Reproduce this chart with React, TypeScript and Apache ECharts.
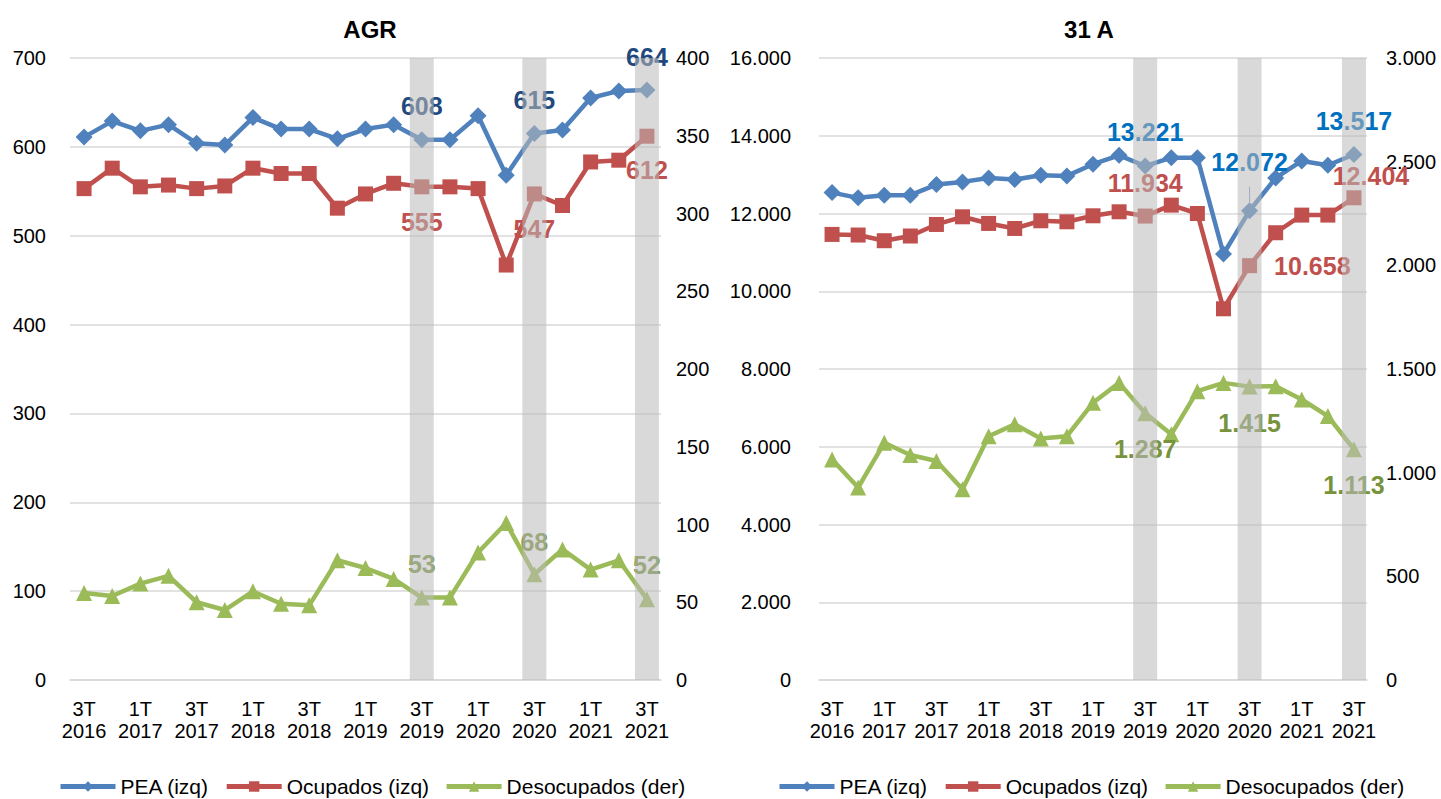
import React, { useEffect, useRef } from "react";
import * as echarts from "echarts";

const categories = [
  "3T\n2016", "4T\n2016", "1T\n2017", "2T\n2017", "3T\n2017", "4T\n2017",
  "1T\n2018", "2T\n2018", "3T\n2018", "4T\n2018", "1T\n2019", "2T\n2019",
  "3T\n2019", "4T\n2019", "1T\n2020", "2T\n2020", "3T\n2020", "4T\n2020",
  "1T\n2021", "2T\n2021", "3T\n2021",
];

const seriesNames = ["PEA (izq)", "Ocupados (izq)", "Desocupados (der)"];

// AGR panel
const agrPEA = [611, 629, 618, 625, 604, 602, 633, 620, 620, 609, 620, 625, 608, 608, 635, 568, 615, 619, 655, 663, 664];
const agrOcupados = [553, 576, 555, 557, 553, 556, 576, 570, 570, 531, 547, 559, 555, 555, 553, 467, 547, 534, 583, 585, 612];
const agrDesocupados = [56, 54, 62, 67, 50, 45, 57, 49, 48, 77, 72, 65, 53, 53, 82, 101, 68, 84, 71, 77, 52];

// 31 A panel
const a31PEA = [12538, 12403, 12472, 12472, 12744, 12813, 12915, 12872, 12985, 12967, 13267, 13497, 13221, 13436, 13436, 10959, 12072, 12915, 13351, 13241, 13517];
const a31Ocupados = [11462, 11446, 11300, 11421, 11718, 11915, 11744, 11615, 11813, 11787, 11941, 12044, 11934, 12215, 12000, 9549, 10658, 11505, 11959, 11959, 12404];
const a31Desocupados = [1064, 928, 1144, 1085, 1056, 920, 1176, 1233, 1165, 1176, 1337, 1433, 1287, 1185, 1393, 1433, 1415, 1417, 1353, 1273, 1113];

// highlighted quarters (3T of each year from 2019)
const highlightIdx = [12, 16, 20];

// axis ranges
const agrLeftAxis = { min: 0, max: 700, interval: 100 };
const agrRightAxis = { min: 0, max: 400, interval: 50 };
const a31LeftAxis = { min: 0, max: 16000, interval: 2000 };
const a31RightAxis = { min: 0, max: 3000, interval: 500 };

const FONT = "Liberation Sans, Arial, sans-serif";
const BLUE = "#4f81bd";
const RED = "#c0504d";
const GREEN = "#9bbb59";

const fmt = (v: number) => String(v).replace(/\B(?=(\d{3})+(?!\d))/g, ".");

type LabelSpec = { position: string; distance: number; offset?: number[]; line?: boolean };

function buildData(values: number[], specs: Record<number, LabelSpec>, color: string) {
  return values.map((v, i) => {
    const s = specs[i];
    if (!s) return v;
    const item: any = {
      value: v,
      label: {
        show: true,
        position: s.position,
        distance: s.distance,
        offset: s.offset || [0, 0],
        formatter: () => fmt(v),
        fontSize: 25,
        fontWeight: "bold",
        fontFamily: FONT,
        color,
      },
    };
    if (s.line) {
      item.labelLine = { show: true, lineStyle: { color: "#7f9cc0", width: 1 } };
    }
    return item;
  });
}

function lineSeries(
  name: string, values: number[], specs: Record<number, LabelSpec>, labelColor: string,
  color: string, symbol: string, symbolSize: number, xAxisIndex: number, yAxisIndex: number
) {
  return {
    name,
    type: "line",
    xAxisIndex,
    yAxisIndex,
    data: buildData(values, specs, labelColor),
    color,
    symbol,
    symbolSize,
    lineStyle: { width: 4.5, color },
    itemStyle: { color },
    label: { show: false },
    z: 3,
  };
}

function bandSeries(xAxisIndex: number, yAxisIndex: number, max: number) {
  return {
    name: "band",
    type: "bar",
    xAxisIndex,
    yAxisIndex,
    data: categories.map((_, i) => (highlightIdx.includes(i) ? max : null)),
    barWidth: 24,
    itemStyle: { color: "rgba(185,185,185,0.55)" },
    silent: true,
    z: 20,
  };
}

function valueAxis(gridIndex: number, position: string, range: any, margin: number, split: boolean) {
  return {
    type: "value",
    gridIndex,
    position,
    min: range.min,
    max: range.max,
    interval: range.interval,
    axisLine: { show: false },
    axisTick: { show: false },
    splitLine: { show: split, lineStyle: { color: "#d9d9d9", width: 1.5 } },
    axisLabel: { fontSize: 20, color: "#000", fontFamily: FONT, margin, formatter: (v: number) => fmt(v) },
  };
}

function catAxis(gridIndex: number) {
  return {
    type: "category",
    gridIndex,
    data: categories,
    axisTick: { show: false },
    axisLine: { lineStyle: { color: "#d9d9d9", width: 1.5 } },
    axisLabel: { interval: 1, fontSize: 20, color: "#000", fontFamily: FONT, lineHeight: 22, margin: 18 },
  };
}

function legend(left: number) {
  return {
    data: seriesNames,
    left,
    top: 776,
    padding: 0,
    itemWidth: 55,
    itemHeight: 13,
    itemGap: 15,
    lineStyle: { width: 5 },
    textStyle: { fontSize: 21, color: "#000", fontFamily: FONT },
  };
}

export default function App() {
  const ref = useRef<HTMLDivElement>(null);
  useEffect(() => {
    if (!ref.current) return;
    const chart = echarts.init(ref.current, null, { renderer: "svg" });
    const option: any = {
      animation: false,
      backgroundColor: "#fff",
      title: [
        { text: "AGR", left: 365, top: 12, textAlign: "center", textStyle: { fontSize: 24, fontWeight: "bold", color: "#000", fontFamily: FONT } },
        { text: "31 A", left: 1084, top: 12, textAlign: "center", textStyle: { fontSize: 24, fontWeight: "bold", color: "#000", fontFamily: FONT } },
      ],
      legend: [legend(58), legend(777)],
      grid: [
        { left: 70, top: 58, width: 591, height: 622 },
        { left: 819, top: 58, width: 548, height: 622 },
      ],
      xAxis: [catAxis(0), catAxis(1)],
      yAxis: [
        valueAxis(0, "left", agrLeftAxis, 24, true),
        valueAxis(0, "right", agrRightAxis, 15, false),
        valueAxis(1, "left", a31LeftAxis, 28, true),
        valueAxis(1, "right", a31RightAxis, 19, false),
      ],
      series: [
        lineSeries(seriesNames[0], agrPEA,
          { 12: { position: "top", distance: 13 }, 16: { position: "top", distance: 13 }, 20: { position: "top", distance: 12 } },
          "#1f497d", BLUE, "diamond", 17, 0, 0),
        lineSeries(seriesNames[1], agrOcupados,
          { 12: { position: "bottom", distance: 15 }, 16: { position: "bottom", distance: 15 }, 20: { position: "bottom", distance: 14 } },
          RED, RED, "rect", 15, 0, 0),
        lineSeries(seriesNames[2], agrDesocupados,
          { 12: { position: "top", distance: 13 }, 16: { position: "top", distance: 12 }, 20: { position: "top", distance: 14 } },
          "#77933c", GREEN, "triangle", 16, 0, 1),
        bandSeries(0, 0, agrLeftAxis.max),
        lineSeries(seriesNames[0], a31PEA,
          { 12: { position: "top", distance: 13 }, 16: { position: "top", distance: 28, line: true }, 20: { position: "top", distance: 13 } },
          "#0070c0", BLUE, "diamond", 17, 1, 2),
        lineSeries(seriesNames[1], a31Ocupados,
          { 12: { position: "top", distance: 13 }, 16: { position: "right", distance: 17 }, 20: { position: "top", distance: 2, offset: [17, 0] } },
          RED, RED, "rect", 15, 1, 2),
        lineSeries(seriesNames[2], a31Desocupados,
          { 12: { position: "bottom", distance: 15 }, 16: { position: "bottom", distance: 16 }, 20: { position: "bottom", distance: 15 } },
          "#77933c", GREEN, "triangle", 16, 1, 3),
        bandSeries(1, 2, a31LeftAxis.max),
      ],
    };
    chart.setOption(option);
    return () => chart.dispose();
  }, []);
  return <div ref={ref} style={{ position: "absolute", left: 0, top: 0, width: 1441, height: 799 }} />;
}
